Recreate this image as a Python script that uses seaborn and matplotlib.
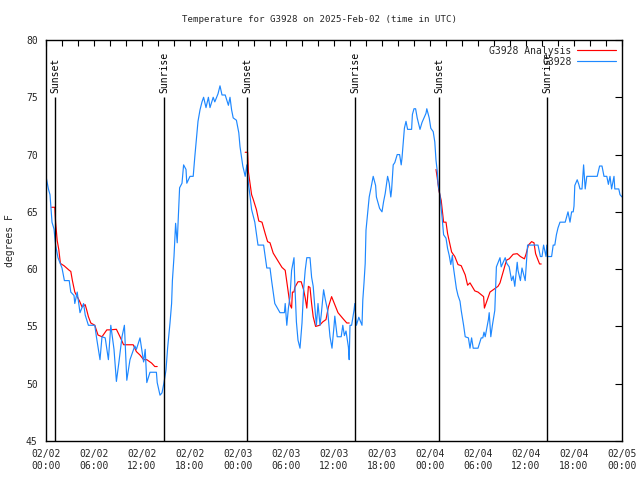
import numpy as np
import pandas as pd
import matplotlib
matplotlib.use("Agg")
import matplotlib.pyplot as plt
import matplotlib.dates as mdates
import seaborn as sns

# ---------------- data (hours after 2025-02-02 00:00 UTC, degrees F) ----------------
start = pd.Timestamp("2025-02-02 00:00")

obs_hours = [0.0, 0.3, 0.5, 0.75, 1.0, 1.1, 1.2, 1.5, 2.0, 2.3, 2.9, 3.1, 3.5, 3.6, 3.9, 4.25, 4.7, 4.9,
             5.3, 6.1, 6.3, 6.75, 7.0, 7.4, 7.8, 8.1, 8.5, 8.8, 9.1, 9.5, 9.8, 10.1, 10.5, 11.1, 11.3,
             11.75, 12.2, 12.4, 12.6, 13.0, 13.8, 13.9, 14.25, 14.5, 14.75, 15.0, 15.2, 15.5, 15.7, 15.8,
             16.0, 16.2, 16.4, 16.7, 17.0, 17.2, 17.5, 17.6, 18.0, 18.4, 18.6, 18.8, 19.0, 19.25, 19.5,
             19.7, 20.0, 20.3, 20.5, 20.9, 21.1, 21.5, 21.75, 22.0, 22.4, 22.8, 23.0, 23.2, 23.4, 23.8,
             24.1, 24.25, 24.5, 24.6, 24.9, 25.1, 25.3, 25.5, 25.7, 26.1, 26.3, 26.5, 27.2, 27.4, 27.6,
             28.0, 28.2, 28.4, 28.6, 29.25, 29.8, 29.9, 30.1, 30.3, 30.5, 30.7, 31.0, 31.1, 31.3, 31.5,
             31.75, 32.0, 32.2, 32.4, 32.6, 33.0, 33.2, 33.4, 33.6, 33.8, 34.0, 34.25, 34.4, 34.7, 34.9,
             35.2, 35.5, 35.75, 36.0, 36.1, 36.4, 36.9, 37.1, 37.3, 37.5, 37.8, 37.9, 38.0, 38.2, 38.5,
             38.6, 38.8, 39.1, 39.5, 39.6, 39.75, 39.9, 40.0, 40.2, 40.4, 40.6, 40.9, 41.2, 41.3, 41.7,
             42.0, 42.2, 42.4, 42.7, 42.9, 43.1, 43.2, 43.4, 43.6, 43.9, 44.2, 44.4, 44.5, 44.8, 45.0,
             45.2, 45.7, 45.8, 46.0, 46.2, 46.4, 46.75, 47.0, 47.25, 47.5, 47.6, 47.9, 48.1, 48.4, 48.6,
             48.75, 48.9, 49.0, 49.25, 49.5, 49.7, 50.0, 50.2, 50.4, 50.6, 50.8, 50.9, 51.1, 51.3, 51.5,
             51.75, 51.9, 52.2, 52.4, 52.8, 53.0, 53.2, 53.4, 54.0, 54.4, 54.6, 54.75, 54.9, 55.3, 55.4,
             55.6, 55.8, 56.1, 56.3, 56.75, 56.9, 57.4, 57.6, 57.9, 58.2, 58.4, 58.6, 58.9, 59.0, 59.3,
             59.5, 59.9, 60.1, 60.2, 61.5, 61.8, 62.0, 62.2, 62.5, 62.6, 62.7, 63.2, 63.4, 63.6, 63.8,
             64.0, 64.25, 64.9, 65.25, 65.5, 65.7, 65.9, 66.0, 66.1, 66.4, 66.6, 66.75, 67.0, 67.2, 67.4,
             67.6, 68.9, 69.2, 69.5, 69.75, 70.1, 70.3, 70.5, 70.7, 71.0, 71.1, 71.6, 71.75, 72.0]
obs_temps = [68.1, 67.0, 66.5, 64.1, 63.5, 62.8, 62.1, 61.0, 60.1, 59.0, 59.0, 58.0, 57.7, 57.0, 58.0, 56.2, 57.0, 56.0,
             55.1, 55.1, 54.1, 52.1, 54.1, 54.0, 52.1, 55.1, 53.0, 50.2, 51.8, 54.1, 55.1, 50.3, 52.1, 53.3, 53.0,
             54.0, 51.9, 53.0, 50.1, 51.0, 51.0, 50.1, 49.0, 49.2, 50.1, 51.2, 53.1, 55.3, 57.0, 59.0,
             61.1, 64.0, 62.3, 67.1, 67.5, 69.1, 68.7, 67.5, 68.1, 68.1, 69.8, 71.3, 72.9, 73.9, 74.6,
             75.0, 74.1, 75.0, 74.1, 75.0, 74.6, 75.3, 76.0, 75.2, 75.2, 74.3, 75.0, 73.9, 73.2, 73.0,
             71.9, 70.7, 69.5, 69.0, 68.1, 69.1, 67.5, 66.4, 65.2, 64.1, 63.1, 62.1, 62.1, 61.1, 60.1,
             60.1, 59.0, 58.0, 57.0, 56.2, 56.2, 57.0, 55.1, 56.6, 57.6, 59.9, 61.0, 58.8, 55.4, 53.8,
             53.1, 55.3, 58.2, 59.9, 61.0, 61.0, 59.3, 58.5, 56.7, 55.1, 57.0, 55.1, 56.0, 58.2, 57.4,
             56.4, 54.1, 53.1, 55.0, 55.9, 54.1, 54.1, 55.1, 54.2, 54.6, 53.2, 52.1, 55.1, 55.1, 56.4,
             57.0, 55.1, 55.8, 55.1, 57.3, 58.8, 60.5, 63.4, 64.9, 66.3, 67.0, 68.1, 67.3, 66.3, 65.3,
             65.0, 65.9, 66.6, 68.1, 67.5, 66.3, 66.9, 69.1, 69.3, 70.0, 70.0, 69.1, 69.7, 72.3, 72.9,
             72.2, 72.2, 73.5, 74.0, 74.0, 73.2, 72.2, 72.8, 73.2, 73.6, 74.0, 73.2, 72.3, 72.0, 71.1,
             69.5, 68.6, 67.5, 66.4, 64.6, 63.0, 62.7, 61.8, 61.2, 60.4, 61.2, 60.3, 59.3, 58.3, 57.7,
             57.2, 56.4, 55.1, 54.1, 54.0, 53.1, 54.0, 53.1, 53.1, 54.0, 54.0, 54.5, 54.1, 55.6, 56.2,
             54.1, 55.1, 56.4, 60.2, 61.0, 60.2, 61.0, 60.5, 60.2, 59.0, 59.4, 58.5, 60.6, 59.9, 59.0,
             60.1, 59.0, 61.0, 62.1, 62.1, 61.1, 61.1, 62.1, 61.1, 62.1, 61.1, 61.1, 62.1, 62.1, 63.0,
             63.6, 64.1, 64.1, 65.0, 64.1, 65.0, 65.0, 65.5, 67.3, 67.8, 67.4, 67.0, 67.0, 69.1, 67.0,
             68.1, 68.1, 69.0, 69.0, 68.1, 68.1, 67.4, 68.1, 67.0, 68.1, 67.0, 67.0, 66.5, 66.3]

ana1_hours = [0.7, 1.1, 1.2, 1.4, 1.6, 1.8, 2.25, 2.9, 3.1, 3.3, 3.6, 3.9, 4.2, 4.5, 4.9, 5.1, 5.3, 5.6,
              6.1, 6.5, 7.0, 7.6, 8.0, 8.8, 9.25, 9.7, 10.9, 11.3, 11.75, 12.2, 12.6, 13.2, 13.6, 13.9]
ana1_temps = [65.4, 65.4, 64.1, 62.5, 61.7, 60.5, 60.3, 59.9, 59.8, 59.0, 58.0, 57.6, 57.2, 56.7, 56.9, 56.4,
              55.85, 55.3, 55.1, 54.25, 54.1, 54.7, 54.7, 54.75, 54.1, 53.4, 53.4, 52.8, 52.5, 52.1, 52.1,
              51.8, 51.5, 51.5]
ana2_hours = [24.9, 25.2, 25.3, 25.5, 25.7, 25.9, 26.3, 26.6, 27.0, 27.4, 27.7, 28.0, 28.4, 28.75, 29.1,
              29.5, 29.9, 30.1, 30.3, 30.5, 30.7, 30.8, 31.0, 31.1, 31.5, 31.9, 32.2, 32.4, 32.6, 32.8,
              33.0, 33.2, 33.4, 33.7, 34.2, 34.6, 35.0, 35.3, 35.7, 36.1, 36.5, 37.1, 37.6, 37.9]
ana2_temps = [70.2, 70.2, 68.5, 67.5, 66.5, 66.1, 65.2, 64.2, 64.1, 63.1, 62.4, 62.3, 61.4, 61.0, 60.6,
              60.15, 59.9, 58.9, 57.9, 56.9, 56.6, 58.0, 58.0, 58.4, 58.9, 58.9, 58.2, 57.5, 56.6, 58.5,
              58.4, 57.0, 55.85, 55.0, 55.1, 55.4, 55.6, 56.7, 57.6, 56.9, 56.2, 55.7, 55.3, 55.3]
ana3_hours = [48.75, 48.9, 49.1, 49.4, 49.7, 50.0, 50.2, 50.7, 51.1, 51.5, 51.9, 52.4, 52.7, 53.0, 53.6,
              54.0, 54.7, 54.8, 55.1, 55.5, 55.9, 56.5, 56.75, 57.2, 57.4, 57.6, 57.9, 58.4, 58.9, 59.3,
              59.8, 60.0, 60.3, 60.7, 61.0, 61.2, 61.5, 61.7, 61.9]
ana3_temps = [68.7, 68.0, 66.9, 66.0, 64.1, 64.1, 63.1, 61.5, 61.1, 60.4, 60.3, 59.5, 58.6, 58.8, 58.1,
              58.0, 57.6, 56.6, 57.2, 58.0, 58.2, 58.5, 58.8, 59.9, 60.4, 60.8, 60.9, 61.3, 61.35, 61.1,
              60.9, 61.3, 62.1, 62.4, 62.3, 61.35, 60.8, 60.45, 60.45]

event_hours = [1.125, 14.8, 25.125, 38.625, 49.125, 62.625]
event_labels = ["Sunset", "Sunrise", "Sunset", "Sunrise", "Sunset", "Sunrise"]

title = "Temperature for G3928 on 2025-Feb-02 (time in UTC)"
ylabel = "degrees F"
y_min, y_max, y_event_top = 45, 80, 75

# ---------------- build frames ----------------
def to_time(hours):
    return start + pd.to_timedelta(np.asarray(hours, dtype=float), unit="h")

obs_df = pd.DataFrame({"time": to_time(obs_hours), "temp": obs_temps})
ana_dfs = [pd.DataFrame({"time": to_time(h), "temp": t})
           for h, t in [(ana1_hours, ana1_temps), (ana2_hours, ana2_temps), (ana3_hours, ana3_temps)]]

# ---------------- style ----------------
sns.set_style("white")
plt.rcParams["font.family"] = ["DejaVu Sans Mono"]
plt.rcParams["font.size"] = 7

fig = plt.figure(figsize=(6.4, 4.8), dpi=100)
ax = fig.add_axes([46 / 640, 39 / 480, 576 / 640, 401 / 480])

red = "#ff0000"
blue = "#1e88ff"

for i, d in enumerate(ana_dfs):
    sns.lineplot(data=d, x="time", y="temp", ax=ax, color=red, lw=0.85,
                 label="G3928 Analysis" if i == 0 else None, estimator=None, sort=False)
sns.lineplot(data=obs_df, x="time", y="temp", ax=ax, color=blue, lw=0.85,
             label="G3928", estimator=None, sort=False)

for h, lab in zip(event_hours, event_labels):
    t = to_time([h])[0]
    ax.vlines(t, y_min, y_event_top, color="black", lw=1.0)
    ax.text(t, y_event_top + 0.4, lab, rotation=90, ha="center", va="bottom",
            fontsize=7, color="black")

ax.set_xlim(start, start + pd.Timedelta(hours=72))
ax.set_ylim(y_min, y_max)
ax.set_yticks(np.arange(y_min, y_max + 1, 5))

ax.xaxis.set_major_locator(mdates.HourLocator(byhour=[0, 6, 12, 18]))
ax.xaxis.set_minor_locator(mdates.HourLocator(interval=2))
ax.xaxis.set_major_formatter(mdates.DateFormatter("%m/%d\n%H:%M"))

ax.tick_params(axis="both", which="both", direction="in", top=True, right=True,
               color="black", labelsize=7, width=0.8)
ax.tick_params(axis="x", which="major", length=4, pad=6)
ax.tick_params(axis="x", which="minor", length=4)
ax.tick_params(axis="y", which="major", length=5, pad=6)

for s in ax.spines.values():
    s.set_visible(True)
    s.set_color("black")
    s.set_linewidth(1.0)

ax.set_xlabel("")
ax.set_ylabel(ylabel, fontsize=7, labelpad=8)
fig.suptitle(title, x=0.5, y=1 - 19 / 480, va="center", ha="center", fontsize=6.6)

leg = ax.legend(loc="upper right", frameon=False, markerfirst=False, fontsize=7,
                handlelength=4, handletextpad=0.6, labelspacing=0.1,
                borderaxespad=0.2)

fig.savefig("out.png", dpi=100)
